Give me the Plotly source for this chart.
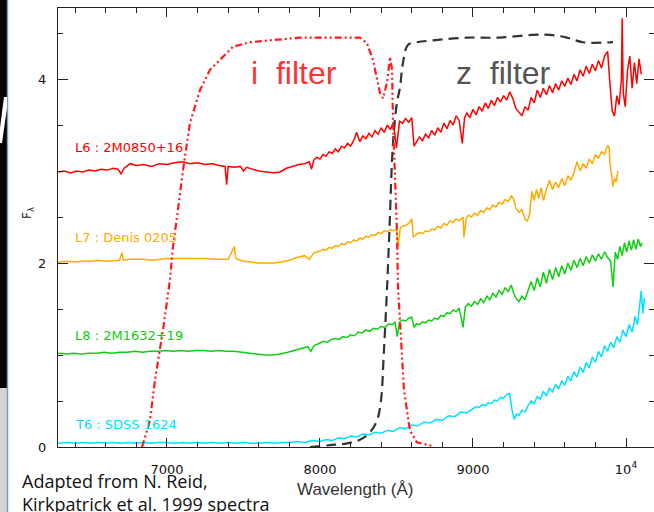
import plotly.graph_objects as go

# ---------------- data ----------------
L6_wl = [6290, 6330, 6370, 6410, 6450, 6490, 6530, 6570, 6610, 6650, 6680, 6700, 6720, 6760, 6800,
         6850, 6900, 6950, 7000, 7050, 7100, 7150, 7200, 7250, 7300, 7340, 7380, 7390, 7400, 7440,
         7480, 7500, 7520, 7560, 7600, 7650, 7700, 7740, 7780, 7820, 7860, 7900, 7930, 7945,
         7960, 7980, 8000, 8020, 8040, 8060, 8080, 8100, 8120, 8140, 8160, 8180, 8200, 8220, 8240,
         8260, 8280, 8300, 8320, 8340, 8360, 8380, 8400, 8420, 8440, 8460, 8480, 8500, 8520, 8540,
         8560, 8580, 8600, 8615, 8630, 8650, 8670, 8690, 8710, 8730, 8750, 8770, 8790, 8810, 8830,
         8850, 8870, 8890, 8910, 8930, 8945, 8960, 8980, 9000, 9020, 9040, 9060, 9080, 9100, 9120,
         9140, 9160, 9180, 9200, 9220, 9240, 9260, 9280, 9300, 9320, 9340, 9360, 9380, 9400, 9420,
         9440, 9460, 9480, 9500, 9520, 9540, 9560, 9580, 9600, 9620, 9640, 9660, 9680, 9700, 9720,
         9740, 9760, 9780, 9800, 9820, 9840, 9860, 9880, 9895, 9910, 9925, 9940, 9955, 9970, 9975,
         9982, 9995, 10010, 10025, 10040, 10055, 10070, 10085, 10100]
L6_flux = [2.99, 3.00, 2.98, 3.00, 2.99, 3.01, 3.00, 3.02, 3.01, 3.03, 3.02, 2.97, 3.03, 3.08, 3.06,
           3.07, 3.05, 3.08, 3.07, 3.09, 3.10, 3.08, 3.09, 3.07, 3.08, 3.06, 3.05, 2.85, 3.05, 3.04,
           3.05, 3.00, 3.04, 3.02, 3.00, 2.99, 2.98, 2.99, 3.03, 3.05, 3.07, 3.08, 3.10, 3.02,
           3.12, 3.15, 3.13, 3.18, 3.16, 3.21, 3.19, 3.24, 3.21, 3.27, 3.25, 3.30, 3.27, 3.33, 3.42,
           3.32, 3.38, 3.35, 3.41, 3.37, 3.44, 3.40, 3.47, 3.42, 3.50, 3.45, 3.53, 3.25, 3.54, 3.52,
           3.57, 3.53, 3.58, 3.27, 3.32, 3.37, 3.33, 3.40, 3.36, 3.44, 3.39, 3.47, 3.42, 3.52, 3.46,
           3.55, 3.50, 3.60, 3.55, 3.30, 3.58, 3.63, 3.58, 3.67, 3.61, 3.70, 3.65, 3.74, 3.68, 3.77,
           3.71, 3.80, 3.75, 3.82, 3.77, 3.86, 3.79, 3.68, 3.64, 3.60, 3.70, 3.66, 3.80, 3.74, 3.88,
           3.80, 3.90, 3.83, 3.93, 3.85, 3.95, 3.88, 3.98, 3.92, 4.01, 3.94, 4.05, 3.98, 4.10, 4.03,
           4.14, 4.06, 4.16, 4.09, 4.20, 4.12, 4.25, 4.30, 3.95, 3.65, 3.60, 3.82, 3.72, 4.00, 4.66,
           3.85, 3.70, 4.10, 4.25, 3.90, 4.18, 3.95, 4.22, 4.05]

L7_wl = [6290, 6350, 6400, 6450, 6500, 6550, 6600, 6650, 6690, 6705, 6715, 6760, 6800, 6850, 6900,
         6950, 7000, 7050, 7100, 7150, 7200, 7250, 7300, 7350, 7400, 7440, 7450, 7460, 7500, 7550,
         7600, 7650, 7700, 7750, 7800, 7850, 7900, 7930, 7960, 7980, 8000, 8020, 8040, 8060, 8080,
         8100, 8120, 8140, 8160, 8180, 8200, 8220, 8240, 8260, 8280, 8300, 8320, 8340, 8360, 8380,
         8400, 8420, 8440, 8460, 8480, 8500, 8510, 8525, 8540, 8560, 8580, 8600, 8610, 8630, 8650,
         8670, 8690, 8710, 8730, 8750, 8770, 8790, 8810, 8830, 8850, 8870, 8890, 8910, 8935, 8941,
         8955, 8970, 8990, 9010, 9030, 9050, 9070, 9090, 9110, 9130, 9150, 9170, 9190, 9210, 9230,
         9250, 9265, 9280, 9300, 9320, 9340, 9355, 9370, 9385, 9400, 9415, 9430, 9445, 9460, 9480,
         9500, 9520, 9540, 9560, 9580, 9600, 9620, 9640, 9660, 9680, 9700, 9720, 9740, 9760, 9780,
         9800, 9820, 9840, 9860, 9880, 9890, 9895, 9905, 9915, 9925, 9935, 9945, 9950]
L7_flux = [2.01, 2.02, 2.01, 2.02, 2.02, 2.03, 2.02, 2.03, 2.03, 2.11, 2.03, 2.04, 2.04, 2.04, 2.03,
           2.04, 2.05, 2.05, 2.05, 2.05, 2.05, 2.05, 2.04, 2.04, 2.04, 2.18, 2.05, 2.04, 2.02, 2.01,
           2.00, 2.00, 2.00, 2.01, 2.03, 2.06, 2.08, 2.04, 2.11, 2.12, 2.13, 2.15, 2.14, 2.17, 2.16,
           2.19, 2.18, 2.21, 2.20, 2.23, 2.22, 2.25, 2.24, 2.27, 2.26, 2.29, 2.28, 2.31, 2.30, 2.33,
           2.32, 2.35, 2.34, 2.36, 2.35, 2.37, 2.17, 2.38, 2.40, 2.41, 2.43, 2.48, 2.28, 2.31, 2.33,
           2.32, 2.35, 2.34, 2.37, 2.36, 2.40, 2.38, 2.43, 2.41, 2.46, 2.44, 2.48, 2.46, 2.50, 2.28,
           2.48, 2.52, 2.50, 2.54, 2.52, 2.57, 2.55, 2.60, 2.58, 2.63, 2.61, 2.66, 2.64, 2.69, 2.67,
           2.73, 2.70, 2.60, 2.55, 2.58, 2.48, 2.45, 2.53, 2.78, 2.68, 2.80, 2.70, 2.82, 2.68, 2.80,
           2.90, 2.80, 2.88, 2.82, 2.92, 2.84, 2.95, 2.90, 2.98, 3.10, 3.00, 3.08, 3.03, 3.13, 3.08,
           3.18, 3.14, 3.21, 3.18, 3.28, 3.25, 3.09, 2.95, 2.83, 2.92, 2.88, 2.98, 3.00]

L8_wl = [6290, 6340, 6390, 6440, 6490, 6540, 6590, 6640, 6690, 6740, 6790, 6840, 6890, 6940, 6990,
         7040, 7090, 7140, 7190, 7240, 7290, 7340, 7390, 7440, 7490, 7540, 7590, 7640, 7690, 7740,
         7790, 7840, 7880, 7920, 7940, 7960, 8000, 8025, 8050, 8075, 8100, 8125, 8150, 8175, 8200,
         8225, 8250, 8275, 8300, 8325, 8350, 8375, 8400, 8425, 8450, 8475, 8490, 8505, 8520, 8540,
         8560, 8580, 8600, 8615, 8630, 8650, 8670, 8690, 8710, 8730, 8750, 8770, 8790, 8810, 8830,
         8850, 8870, 8890, 8910, 8935, 8950, 8970, 8990, 9010, 9030, 9050, 9070, 9090, 9110, 9130,
         9150, 9170, 9190, 9210, 9230, 9250, 9265, 9280, 9300, 9320, 9340, 9360, 9380, 9400, 9420,
         9440, 9460, 9480, 9500, 9520, 9540, 9560, 9580, 9600, 9620, 9640, 9660, 9680, 9700, 9720,
         9740, 9760, 9780, 9800, 9820, 9840, 9860, 9880, 9900, 9915, 9930, 9945, 9960, 9975, 9990,
         10005, 10020, 10035, 10050, 10065, 10080, 10095, 10105]
L8_flux = [1.02, 1.01, 1.02, 1.01, 1.02, 1.02, 1.03, 1.02, 1.03, 1.03, 1.04, 1.03, 1.04, 1.04, 1.05,
           1.04, 1.05, 1.04, 1.05, 1.05, 1.04, 1.05, 1.04, 1.04, 1.03, 1.02, 1.01, 1.00, 1.00, 1.01,
           1.03, 1.05, 1.07, 1.09, 1.04, 1.10, 1.13, 1.15, 1.14, 1.17, 1.18, 1.17, 1.20, 1.19, 1.22,
           1.21, 1.25, 1.24, 1.27, 1.26, 1.29, 1.28, 1.31, 1.30, 1.34, 1.33, 1.36, 1.20, 1.36, 1.38,
           1.37, 1.40, 1.41, 1.30, 1.34, 1.33, 1.36, 1.35, 1.38, 1.37, 1.40, 1.39, 1.43, 1.42, 1.46,
           1.45, 1.49, 1.47, 1.51, 1.30, 1.52, 1.56, 1.53, 1.58, 1.55, 1.61, 1.57, 1.64, 1.60, 1.67,
           1.63, 1.70, 1.66, 1.73, 1.69, 1.76, 1.68, 1.62, 1.58, 1.64, 1.60, 1.70, 1.80, 1.70, 1.84,
           1.74, 1.90, 1.78, 1.93, 1.82, 1.95, 1.85, 1.97, 1.88, 2.00, 1.92, 2.03, 1.95, 2.05, 1.97,
           2.07, 2.00, 2.09, 2.02, 2.10, 2.04, 2.12, 2.06, 2.02, 1.74, 2.12, 2.04, 2.18, 2.08, 2.22,
           2.12, 2.24, 2.14, 2.25, 2.15, 2.26, 2.18, 2.22]

T6_wl = [6290, 6350, 6400, 6450, 6500, 6550, 6600, 6650, 6700, 6750, 6800, 6850, 6900, 6950, 7000,
         7050, 7100, 7150, 7200, 7250, 7300, 7350, 7400, 7450, 7500, 7550, 7600, 7650, 7700, 7750,
         7800, 7850, 7900, 7950, 8000, 8040, 8080, 8120, 8160, 8200, 8240, 8280, 8320, 8360, 8400,
         8440, 8480, 8520, 8560, 8600, 8640, 8680, 8720, 8760, 8800, 8840, 8880, 8920, 8960, 9000,
         9020, 9040, 9060, 9080, 9100, 9120, 9140, 9160, 9180, 9200, 9220, 9240, 9255, 9270, 9285,
         9300, 9320, 9340, 9360, 9380, 9400, 9420, 9440, 9460, 9480, 9500, 9520, 9540, 9560, 9580,
         9600, 9620, 9640, 9660, 9680, 9700, 9720, 9740, 9760, 9780, 9800, 9820, 9840, 9860, 9880,
         9900, 9920, 9940, 9960, 9980, 10000, 10020, 10040, 10060, 10075, 10090, 10100, 10110, 10120]
T6_flux = [0.04, 0.05, 0.04, 0.05, 0.04, 0.05, 0.04, 0.05, 0.04, 0.05, 0.04, 0.05, 0.04, 0.05, 0.05,
           0.04, 0.05, 0.04, 0.05, 0.04, 0.05, 0.04, 0.05, 0.04, 0.05, 0.04, 0.04, 0.05, 0.04, 0.05,
           0.05, 0.06, 0.05, 0.07, 0.06, 0.08, 0.07, 0.10, 0.09, 0.12, 0.11, 0.14, 0.13, 0.16, 0.15,
           0.18, 0.17, 0.21, 0.20, 0.24, 0.23, 0.27, 0.26, 0.30, 0.29, 0.34, 0.33, 0.38, 0.37, 0.42,
           0.44, 0.43, 0.46, 0.45, 0.48, 0.47, 0.51, 0.50, 0.54, 0.53, 0.57, 0.58, 0.40, 0.30, 0.36,
           0.34, 0.40, 0.38, 0.45, 0.50, 0.47, 0.55, 0.52, 0.60, 0.56, 0.64, 0.60, 0.68, 0.63, 0.72,
           0.67, 0.77, 0.72, 0.82, 0.76, 0.87, 0.81, 0.92, 0.86, 0.98, 0.92, 1.04, 0.98, 1.10, 1.04,
           1.14, 1.08, 1.20, 1.14, 1.27, 1.20, 1.33, 1.25, 1.42, 1.33, 1.55, 1.70, 1.45, 1.62]

i_filter_wl = [6837, 6889, 6922, 6974, 7020, 7039, 7072, 7105, 7150, 7216, 7281, 7431, 7542, 7869,
               8261, 8307, 8346, 8392, 8412, 8438, 8458, 8471, 8477, 8490, 8503, 8510, 8529, 8549,
               8588, 8634, 8739]
i_filter_tr = [0.00, 0.29, 0.73, 1.27, 1.82, 2.17, 2.58, 3.01, 3.52, 3.88, 4.10, 4.35, 4.40, 4.45,
               4.45, 4.39, 4.21, 3.85, 3.79, 3.96, 4.24, 4.10, 3.55, 2.98, 2.36, 1.74, 1.16, 0.62,
               0.18, 0.05, 0.01]

z_filter_wl = [7935, 8065, 8176, 8261, 8327, 8373, 8399, 8418, 8438, 8458, 8471, 8484, 8503, 8523,
               8542, 8575, 8634, 8739, 8961, 9176, 9392, 9503, 9614, 9719, 9915]
z_filter_tr = [0.00, 0.02, 0.04, 0.08, 0.16, 0.29, 0.51, 1.05, 1.71, 2.54, 3.12, 3.45, 3.74, 3.91,
               4.17, 4.37, 4.40, 4.42, 4.45, 4.45, 4.48, 4.48, 4.45, 4.40, 4.40]

spectra_names = ["L6 : 2M0850+16", "L7 : Denis 0205", "L8 : 2M1632+19", "T6 : SDSS 1624"]
spectra_label_y = [3.26, 2.28, 1.21, 0.25]
x_tick_vals = [7000, 8000, 9000, 10000]
x_tick_text = ["7000", "8000", "9000", "10<sup>4</sup>"]
y_tick_vals = [0, 2, 4]
y_tick_text = ["0", "2", "4"]

# ---------------- figure ----------------
W, H = 654, 512
ML, MR, MT, MB = 58, 0, 8, 65
PW, PH = W - ML - MR, H - MT - MB


def px(xp):
    return (xp - ML) / PW


def py(yp):
    return (H - MB - yp) / PH


colors = ["#ff0000", "#ffaa00", "#11cc11", "#00e0ff"]
fig = go.Figure()
for wl, fl, col in zip([L6_wl, L7_wl, L8_wl, T6_wl], [L6_flux, L7_flux, L8_flux, T6_flux], colors):
    fig.add_trace(go.Scatter(x=wl, y=fl, mode="lines", line=dict(color=col, width=1.5),
                             showlegend=False, hoverinfo="skip"))

fig.add_trace(go.Scatter(x=z_filter_wl, y=z_filter_tr, mode="lines", line_shape="spline",
                         line=dict(color="#333333", width=2.2, dash="10px,6px"),
                         showlegend=False, hoverinfo="skip"))
fig.add_trace(go.Scatter(x=i_filter_wl, y=i_filter_tr, mode="lines",
                         line=dict(color="#ff1a1a", width=2.2, dash="7px,3px,2px,3px,2px,3px"),
                         showlegend=False, hoverinfo="skip"))

annotations = []
for name, yv, col in zip(spectra_names, spectra_label_y, colors):
    annotations.append(dict(x=6386, y=yv, xref="x", yref="y", text=name, showarrow=False,
                            xanchor="left", yanchor="middle",
                            font=dict(family="DejaVu Sans", size=13, color=col)))

annotations += [
    dict(x=7830, y=4.07, xref="x", yref="y", text="i\u00a0\u00a0filter", showarrow=False,
         font=dict(family="Liberation Sans", size=32, color="#ff3333")),
    dict(x=9200, y=4.07, xref="x", yref="y", text="z\u00a0\u00a0filter", showarrow=False,
         font=dict(family="Liberation Sans", size=32, color="#555555")),
    dict(x=px(18), y=py(213), xref="paper", yref="paper", text="F<sub>λ</sub>", showarrow=False,
         textangle=-90, font=dict(family="DejaVu Sans", size=12, color="#111")),
    dict(x=px(355), y=py(501), xref="paper", yref="paper", text="Wavelength (Å)", showarrow=False,
         font=dict(family="Liberation Sans", size=17, color="#333")),
    dict(x=px(20), y=py(481), xref="paper", yref="paper", text="Adapted from N. Reid,",
         showarrow=False, xanchor="left", yanchor="middle",
         font=dict(family="Open Sans", size=18, color="#111")),
    dict(x=px(20), y=py(504), xref="paper", yref="paper", text="Kirkpatrick et al. 1999 spectra",
         showarrow=False, xanchor="left", yanchor="middle",
         font=dict(family="Open Sans", size=18, color="#111")),
]

shapes = [
    dict(type="rect", xref="paper", yref="paper", x0=px(0), x1=px(7), y0=py(388), y1=py(0),
         fillcolor="#000000", line=dict(width=0), layer="above"),
    dict(type="rect", xref="paper", yref="paper", x0=px(0), x1=px(7), y0=py(512), y1=py(388),
         fillcolor="#d4d4d4", line=dict(width=0), layer="above"),
    dict(type="line", xref="paper", yref="paper", x0=px(7.5), x1=px(7.5), y0=py(512), y1=py(0),
         line=dict(color="#6f9fd0", width=1.5), layer="above"),
    dict(type="path", xref="paper", yref="paper",
         path=f"M {px(4)},{py(97)} L {px(7)},{py(97)} L {px(7)},{py(108)} L {px(2)},{py(143)} "
              f"L {px(0)},{py(143)} L {px(0)},{py(128)} Z",
         fillcolor="#ffffff", line=dict(width=0), layer="above"),
]

axis_common = dict(showgrid=False, zeroline=False, showline=True, linecolor="#222",
                   linewidth=1, mirror="allticks", ticks="inside", tickcolor="#222",
                   tickfont=dict(family="DejaVu Sans", size=13, color="#111"))

fig.update_layout(
    width=W, height=H,
    margin=dict(l=ML, r=MR, t=MT, b=MB, pad=0),
    paper_bgcolor="white", plot_bgcolor="white",
    xaxis=dict(range=[6288, 10183], tickmode="array", tickvals=x_tick_vals, ticktext=x_tick_text,
               ticklen=9, ticklabelstandoff=10,
               minor=dict(tickmode="array", tickvals=list(range(6400, 10200, 200)),
                          ticks="inside", ticklen=5, tickcolor="#222", showgrid=False),
               **axis_common),
    yaxis=dict(range=[0, 4.772], tickmode="array", tickvals=y_tick_vals, ticktext=y_tick_text,
               ticklen=10, ticklabelstandoff=8,
               minor=dict(tickmode="array", tickvals=[0.5, 1, 1.5, 2.5, 3, 3.5, 4.5],
                          ticks="inside", ticklen=5, tickcolor="#222", showgrid=False),
               **axis_common),
    annotations=annotations,
    shapes=shapes,
    showlegend=False,
)

fig.write_html("out.html")
